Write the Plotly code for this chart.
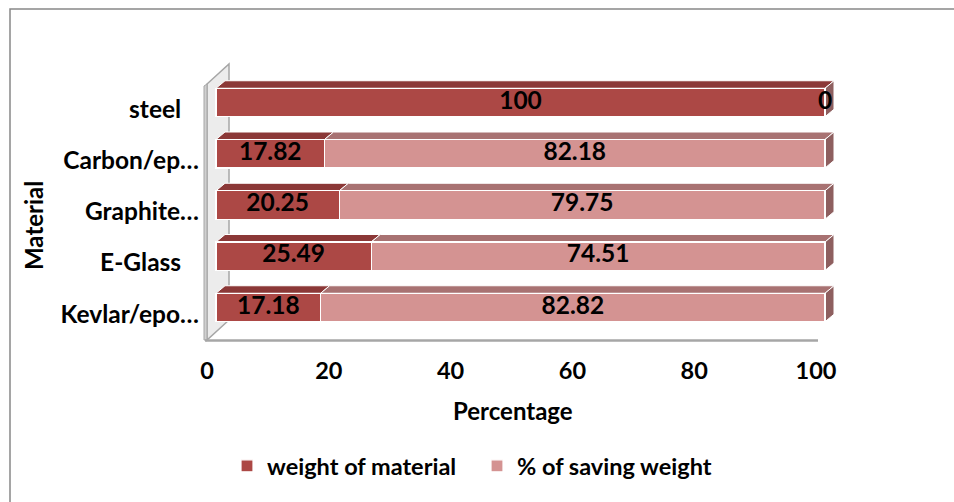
import plotly.graph_objects as go

# ---- data -------------------------------------------------------------
materials = ["steel", "Carbon/ep…", "Graphite…", "E-Glass", "Kevlar/epo…"]
weight_of_material = [100, 17.82, 20.25, 25.49, 17.18]
saving_weight = [0, 82.18, 79.75, 74.51, 82.82]
x_ticks = [0, 20, 40, 60, 80, 100]

# short names sit a little further from the wall
label_pad = {"steel": 3, "E-Glass": 3}
tick_names = [m + "\u00a0" * label_pad.get(m, 0) for m in materials]

# ---- page / plot geometry (pixels) -----------------------------------
W, H = 954, 502
L, R, T, B = 200, 104, 58, 158
PW, PH = W - L - R, H - T - B
X0_PX, X100_PX = 216, 825          # where 0 and 100 fall on the bar faces
ROW_TOP_PX, ROW_PITCH = 102.5, 51.25
SX = (X100_PX - X0_PX) / 100.0     # px per percent
SY = ROW_PITCH                     # px per row

n = len(materials)
pos = list(range(n))[::-1]         # first category on top
top_row = n - 1

x_range = [(L - X0_PX) / SX, 100 + (W - R - X100_PX) / SX]
y_range = [top_row - (T + PH - ROW_TOP_PX) / SY, top_row + (ROW_TOP_PX - T) / SY]


def dx(px):
    return px / SX


def dy(px):
    return px / SY


def x_of(px):
    return x_range[0] + (px - L) / SX


def y_of(px):
    return y_range[1] - (px - T) / SY


def px_paper_x(px):
    return (px - L) / PW


def px_paper_y(px):
    return (T + PH - px) / PH


# 3-D look
BAR_W = 0.556
DEPTH_X, DEPTH_Y = 9, 7.5               # bar depth offset in px
FRONT_SHIFT_X, FRONT_SHIFT_Y = 9, 6.5   # front plane (labels) offset in px

RED, RED_TOP = "#AC4845", "#8B3837"
PINK, PINK_TOP, PINK_SIDE = "#D49392", "#A87272", "#8E5F5F"
FONT = "Lato"

fig = go.Figure()
fig.add_trace(go.Bar(
    y=pos, x=weight_of_material, orientation="h", name="weight of material",
    width=BAR_W, marker=dict(color=RED, line=dict(color="white", width=1.2)),
    hoverinfo="skip"))
fig.add_trace(go.Bar(
    y=pos, x=saving_weight, orientation="h", name="% of saving weight",
    width=BAR_W, marker=dict(color=PINK, line=dict(color="white", width=1.2)),
    hoverinfo="skip"))

# value labels at segment centres
lab_x, lab_y, lab_t = [], [], []
for p, a, b in zip(pos, weight_of_material, saving_weight):
    lab_x += [a / 2, a + b / 2]
    lab_y += [p, p]
    lab_t += [f"{a:g}", f"{b:g}"]
fig.add_trace(go.Scatter(
    x=lab_x, y=lab_y, text=lab_t, mode="text", showlegend=False,
    textfont=dict(family=FONT, size=24.5, color="black", weight="bold"),
    hoverinfo="skip", cliponaxis=False))

shapes = []

# wall (left) and floor front edge
wx0, wx1 = x_of(207), x_of(229)
shapes.append(dict(
    type="path", xref="x", yref="y", layer="below",
    path=f"M{wx0},{y_of(340)} L{wx0},{y_of(84)} L{wx1},{y_of(64)} L{wx1},{y_of(320)} Z",
    fillcolor="#ECECEC", line=dict(color="#A6A6A6", width=1.5)))
shapes.append(dict(
    type="path", xref="x", yref="y", layer="below",
    path=f"M{x_of(204)},{y_of(340)} L{x_of(204)},{y_of(86)} L{wx0},{y_of(84)} L{wx0},{y_of(340)} Z",
    fillcolor="#D0D0D0", line=dict(color="#A6A6A6", width=1)))
shapes.append(dict(
    type="line", xref="x", yref="y", layer="below",
    x0=x_of(205), x1=x_of(818), y0=y_of(340.5), y1=y_of(340.5),
    line=dict(color="#A6A6A6", width=2.5)))

# bar top faces and right-hand end faces
ddx, ddy = dx(DEPTH_X), dy(DEPTH_Y)
for p, a, b in zip(pos, weight_of_material, saving_weight):
    yt, yb = p + BAR_W / 2, p - BAR_W / 2
    for s0, s1, col in ((0, a, RED_TOP), (a, a + b, PINK_TOP)):
        if s1 - s0 <= 0:
            continue
        shapes.append(dict(
            type="path", xref="x", yref="y", layer="below",
            path=f"M{s0},{yt} L{s1},{yt} L{s1 + ddx},{yt + ddy} L{s0 + ddx},{yt + ddy} Z",
            fillcolor=col, line=dict(color="white", width=1)))
    xe = a + b
    shapes.append(dict(
        type="path", xref="x", yref="y", layer="below",
        path=f"M{xe},{yb} L{xe},{yt} L{xe + ddx},{yt + ddy} L{xe + ddx},{yb + ddy} Z",
        fillcolor=PINK_SIDE, line=dict(color="white", width=1)))

# chart-area border
shapes.append(dict(
    type="rect", xref="paper", yref="paper",
    x0=px_paper_x(10), x1=px_paper_x(962),
    y0=px_paper_y(512), y1=px_paper_y(9),
    line=dict(color="#888888", width=1.5), fillcolor="rgba(0,0,0,0)", layer="below"))

text_font = dict(family=FONT, size=24, color="black", weight="bold")
cat_font = dict(family=FONT, size=24.5, color="black", weight="bold")
tick_font = dict(family=FONT, size=23.5, color="black", weight="bold")
legend_font = dict(family=FONT, size=23.5, color="black", weight="bold")

annotations = [
    dict(text="Percentage", xref="paper", yref="paper",
         x=px_paper_x(513), y=px_paper_y(411), xanchor="center", yanchor="middle",
         showarrow=False, font=text_font),
    dict(text="Material", xref="paper", yref="paper", textangle=-90,
         x=px_paper_x(33), y=px_paper_y(226), xanchor="center", yanchor="middle",
         showarrow=False, font=text_font),
]

fig.update_layout(
    width=W, height=H, margin=dict(l=L, r=R, t=T, b=B),
    paper_bgcolor="white", plot_bgcolor="rgba(0,0,0,0)",
    barmode="stack", shapes=shapes, annotations=annotations,
    showlegend=True,
    legend=dict(orientation="h", x=px_paper_x(227), xanchor="left",
                y=px_paper_y(466), yanchor="middle",
                traceorder="normal", font=legend_font, itemwidth=30,
                entrywidth=205, entrywidthmode="pixels"),
    xaxis=dict(range=x_range, showgrid=False, zeroline=False, showline=False,
               tickmode="array", tickvals=[t - dx(FRONT_SHIFT_X) for t in x_ticks],
               ticktext=[str(t) for t in x_ticks], ticks="", tickfont=tick_font,
               ticklabelstandoff=10, fixedrange=True),
    yaxis=dict(range=y_range, showgrid=False, zeroline=False, showline=False,
               tickmode="array", tickvals=[p - dy(FRONT_SHIFT_Y) for p in pos],
               ticktext=tick_names, ticks="", tickfont=cat_font,
               ticklabelstandoff=0, fixedrange=True),
)

fig.write_html("out.html")
